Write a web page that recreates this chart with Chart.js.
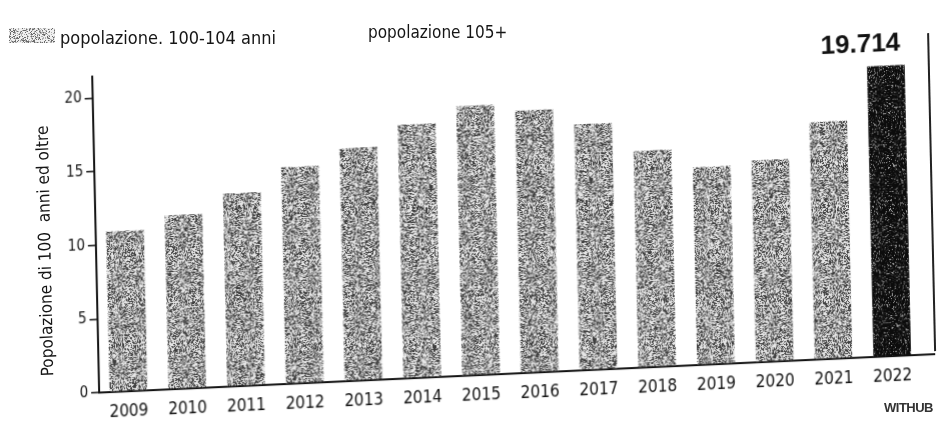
<!DOCTYPE html>
<html><head><meta charset="utf-8">
<script src="https://cdn.jsdelivr.net/npm/chart.js@4/dist/chart.umd.min.js"></script>
<style>
html,body{margin:0;padding:0;background:#fff;width:942px;height:421px;overflow:hidden}
#page{position:relative;width:942px;height:421px;}
#rot{position:absolute;left:0;top:0;width:942px;height:421px;transform-origin:500px 230px;transform:matrix(1,-0.046,0.022,1,0,0);}
canvas{display:block}
.txt{position:absolute;white-space:nowrap;color:#151515;font-family:"Liberation Sans Narrow","DejaVu Sans Condensed","Liberation Sans",sans-serif;line-height:1}
#ytitle{left:45px;top:230px;font-size:17px;transform:translate(-50%,-50%) rotate(-90deg);}
#rline{position:absolute;left:931px;top:53px;width:2px;height:318px;background:#222;}
#sw{position:absolute;left:9px;top:28px;width:46px;height:15px;}
#l1{left:60px;top:29px;font-size:18px;}
#l2{left:368px;top:24px;font-size:17px;}
#credit{left:884px;top:401px;font-size:13px;font-weight:bold;font-family:"Liberation Sans",sans-serif;color:#333;letter-spacing:-0.5px}
</style></head><body>
<div id="page">
 <div id="rot">
   <canvas id="c" width="942" height="421"></canvas>
   <div id="ytitle" class="txt">Popolazione di 100&nbsp; anni ed oltre</div>
   <div id="rline"></div>
 </div>
 <div id="sw"></div>
 <div class="txt" id="l1">popolazione. 100-104 anni</div>
 <div class="txt" id="l2">popolazione 105+</div>
 <div class="txt" id="credit">WITHUB</div>
</div>
<script>
// ---- data (thousands of people aged 100+) ----
const years = ['2009','2010','2011','2012','2013','2014','2015','2016','2017','2018','2019','2020','2021','2022'];
const centenari = [10.9, 11.8, 13.1, 14.7, 15.8, 17.2, 18.3, 17.8, 16.7, 14.7, 13.4, 13.7, 16.1, 19.714];
const yTickValues = [0, 5, 10, 15, 20];
const highlightYear = '2022';

// ---- print-like textures (style only, deterministic) ----
function mulberry32(a){return function(){a|=0;a=a+0x6D2B79F5|0;let t=Math.imul(a^a>>>15,1|a);t=t+Math.imul(t^t>>>7,61|t)^t;return((t^t>>>14)>>>0)/4294967296;};}
function makeTexture(colors, weights, seed, size){
  const c = document.createElement('canvas'); c.width = c.height = size;
  const g = c.getContext('2d');
  const rnd = mulberry32(seed);
  for (let y = 0; y < size; y++) for (let x = 0; x < size; x++) {
    const r = rnd(); let acc = 0, k = 0;
    for (; k < weights.length - 1; k++) { acc += weights[k]; if (r < acc) break; }
    g.fillStyle = colors[k]; g.fillRect(x, y, 1, 1);
  }
  return c;
}
const ctx = document.getElementById('c').getContext('2d');
const greyTex = makeTexture(['#3e3e3e', '#8e8e8e', '#e6e6e6'], [0.33, 0.22, 0.45], 17, 160);
const darkTex = makeTexture(['#0c0c0c', '#2a2a2a', '#9a9a9a'], [0.7, 0.2, 0.1], 23, 160);
const swTex = makeTexture(['#6a6a6a', '#b0b0b0', '#f0f0f0'], [0.2, 0.2, 0.6], 5, 64);
document.getElementById('sw').style.background = 'url(' + swTex.toDataURL() + ')';
const greyPat = ctx.createPattern(greyTex, 'repeat');
const darkPat = ctx.createPattern(darkTex, 'repeat');

const fmtIt = v => String(Math.round(v * 1000)).replace(/\B(?=(\d{3})+(?!\d))/g, '.');
const FONT = '"Liberation Sans Narrow","DejaVu Sans Condensed","Liberation Sans",sans-serif';

const valueLabel = {
  id: 'valueLabel',
  afterDatasetsDraw(chart) {
    const meta = chart.getDatasetMeta(0);
    const i = years.indexOf(highlightYear);
    const bar = meta.data[i];
    const c = chart.ctx;
    c.save();
    c.font = 'bold 26px "Liberation Sans", Arial, sans-serif';
    c.fillStyle = '#111';
    c.textAlign = 'right';
    c.textBaseline = 'bottom';
    c.fillText(fmtIt(centenari[i]), bar.x + bar.width / 2 - 4, bar.y - 9);
    const a = chart.chartArea;
    c.strokeStyle = '#111'; c.lineWidth = 2;
    c.beginPath(); c.moveTo(a.right, a.bottom); c.lineTo(932, a.bottom); c.stroke();
    c.restore();
  }
};

new Chart(ctx, {
  type: 'bar',
  data: {
    labels: years,
    datasets: [{
      label: 'popolazione. 100-104 anni',
      data: centenari,
      backgroundColor: years.map(y => y === highlightYear ? darkPat : greyPat),
      borderWidth: 0,
      barPercentage: 0.64,
      categoryPercentage: 1.0
    }]
  },
  options: {
    responsive: false,
    animation: false,
    devicePixelRatio: 1,
    layout: { padding: { left: 0, top: 58, right: 23.6, bottom: 0 } },
    plugins: { legend: { display: false }, tooltip: { enabled: false }, title: { display: false } },
    scales: {
      x: {
        grid: { display: false, drawTicks: false },
        border: { display: true, color: '#111', width: 2 },
        ticks: { color: '#111', font: { family: FONT, size: 17 }, padding: 10, maxRotation: 0, autoSkip: false },
        afterFit(s) { s.height = 47; }
      },
      y: {
        min: 0, max: 21.45,
        afterBuildTicks(s) { s.ticks = yTickValues.map(v => ({ value: v })); },
        grid: { display: true, drawOnChartArea: false, drawTicks: true, tickLength: 8, color: '#111', lineWidth: 1.5 },
        border: { display: true, color: '#111', width: 2 },
        ticks: { color: '#111', font: { family: FONT, size: 15 }, padding: 3 },
        afterFit(s) { s.width = 96; }
      }
    }
  },
  plugins: [valueLabel]
});
</script>
</body></html>
